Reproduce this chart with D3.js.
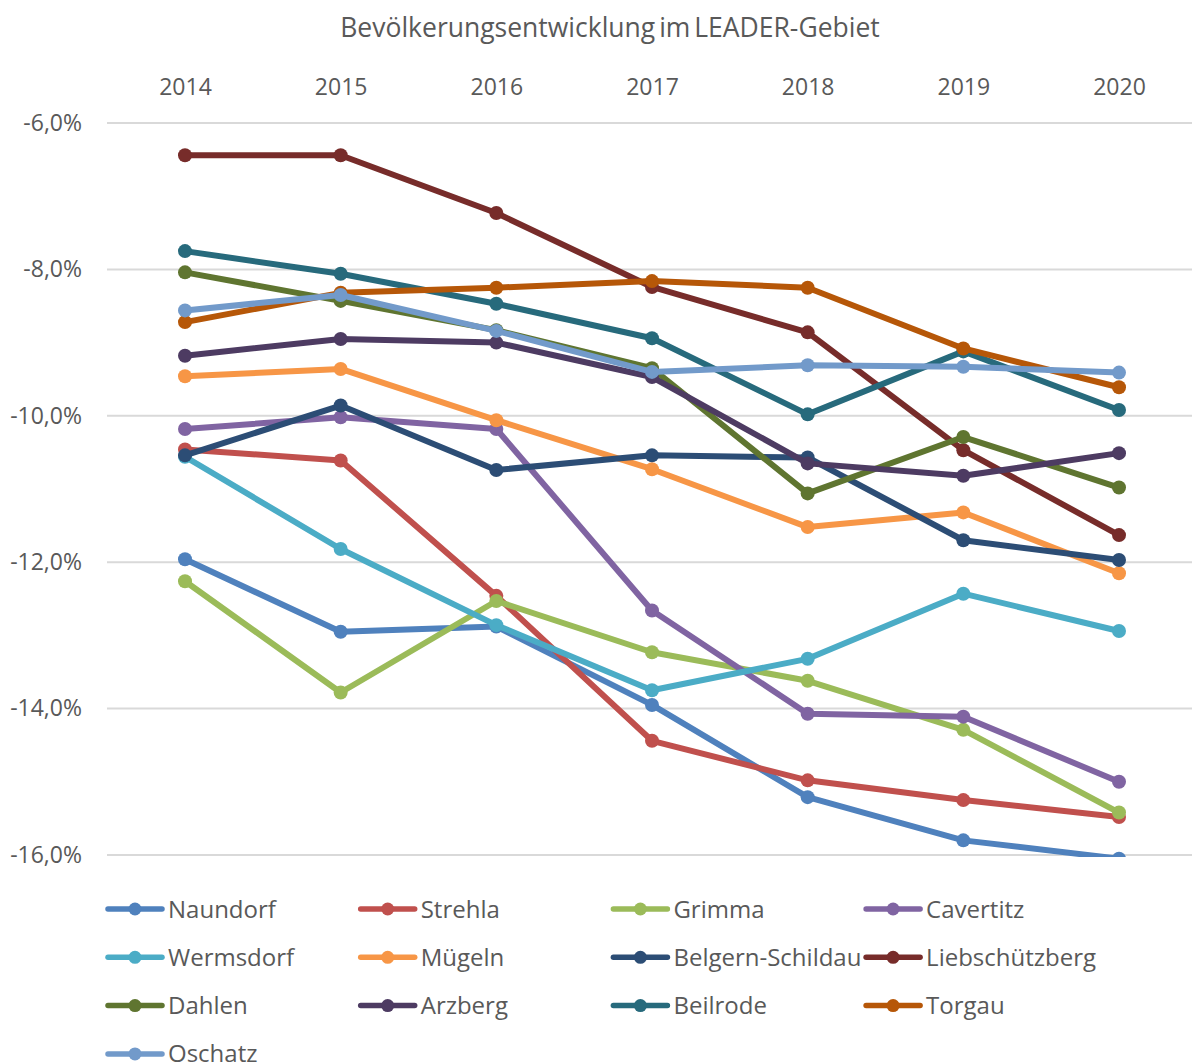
<!DOCTYPE html>
<html>
<head>
<meta charset="utf-8">
<script src="https://cdn.jsdelivr.net/npm/d3@7"></script>
<style>
	body { margin: 0; background: #ffffff; }
	text { font-family: "Open Sans", sans-serif; fill: #595959; }
</style>
</head>
<body>
<div id="chart"></div>
<script>
const years = [2014, 2015, 2016, 2017, 2018, 2019, 2020];
const y_ticks = [-6, -8, -10, -12, -14, -16];

// values in percent
const naundorf = [-11.96, -12.95, -12.88, -13.95, -15.21, -15.80, -16.05];
const strehla = [-10.46, -10.61, -12.46, -14.44, -14.98, -15.25, -15.48];
const grimma = [-12.26, -13.78, -12.53, -13.23, -13.62, -14.29, -15.42];
const cavertitz = [-10.18, -10.02, -10.18, -12.66, -14.07, -14.11, -15.00];
const wermsdorf = [-10.56, -11.82, -12.86, -13.75, -13.32, -12.43, -12.94];
const muegeln = [-9.46, -9.36, -10.06, -10.73, -11.52, -11.32, -12.15];
const belgern = [-10.54, -9.86, -10.74, -10.54, -10.57, -11.70, -11.97];
const liebschuetzberg = [-6.44, -6.44, -7.23, -8.24, -8.86, -10.47, -11.63];
const dahlen = [-8.04, -8.43, -8.83, -9.35, -11.06, -10.29, -10.98];
const arzberg = [-9.18, -8.95, -9.00, -9.47, -10.65, -10.82, -10.51];
const beilrode = [-7.75, -8.06, -8.47, -8.94, -9.98, -9.12, -9.92];
const torgau = [-8.72, -8.32, -8.25, -8.16, -8.25, -9.08, -9.61];
const oschatz = [-8.56, -8.35, -8.84, -9.40, -9.31, -9.33, -9.41];

const series_names = ["Naundorf", "Strehla", "Grimma", "Cavertitz", "Wermsdorf", "Mügeln",
	"Belgern-Schildau", "Liebschützberg", "Dahlen", "Arzberg", "Beilrode", "Torgau", "Oschatz"];
const series_values = [naundorf, strehla, grimma, cavertitz, wermsdorf, muegeln,
	belgern, liebschuetzberg, dahlen, arzberg, beilrode, torgau, oschatz];
const series_colors = ["#4f81bd", "#c0504d", "#9bbb59", "#8064a2", "#4bacc6", "#f79646",
	"#2c4d75", "#772c2a", "#5f7530", "#4d3b62", "#276a7c", "#b65708", "#729aca"];

const width = 1192;
const height = 1063;
const plot = {left: 107, right: 1192, top: 123, bottom: 855};

const svg = d3.select("#chart")
	.append("svg")
		.attr("width", width)
		.attr("height", height);

const x = d3.scalePoint()
	.domain(years)
	.range([185, 1119]);
const y = d3.scaleLinear()
	.domain([-6, -16])
	.range([plot.top, plot.bottom]);

const fmt = v => v.toFixed(1).replace(".", ",") + "%";

// title
svg.append("text")
	.attr("x", 610)
	.attr("y", 37)
	.attr("text-anchor", "middle")
	.style("font-size", "26.5px")
	.style("word-spacing", "-3px")
	.text("Bevölkerungsentwicklung im LEADER-Gebiet");

// gridlines
svg.append("g")
	.selectAll("line")
	.data(y_ticks)
	.join("line")
		.attr("x1", plot.left)
		.attr("x2", plot.right)
		.attr("y1", d => y(d))
		.attr("y2", d => y(d))
		.attr("stroke", "#d9d9d9")
		.attr("stroke-width", 2);

// y labels
const y_axis = svg.append("g")
	.attr("transform", "translate(82,0)")
	.call(d3.axisLeft(y).tickValues(y_ticks).tickFormat(fmt).tickSize(0).tickPadding(0));
y_axis.select(".domain").remove();
y_axis.selectAll("text")
	.style("font-size", "23px")
	.attr("fill", "#595959")
	.style("font-family", "\"Open Sans\", sans-serif");

// x labels on top
const x_axis = svg.append("g")
	.attr("transform", "translate(0,95)")
	.call(d3.axisTop(x).tickSize(0).tickPadding(0));
x_axis.select(".domain").remove();
x_axis.selectAll("text")
	.style("font-size", "23px")
	.attr("fill", "#595959")
	.style("font-family", "\"Open Sans\", sans-serif");

// clip to plot area
svg.append("clipPath")
	.attr("id", "plot_clip")
	.append("rect")
		.attr("x", 0)
		.attr("y", 0)
		.attr("width", width)
		.attr("height", plot.bottom + 2);

const line = d3.line()
	.x((d, i) => x(years[i]))
	.y(d => y(d));

const lines = svg.append("g")
	.attr("clip-path", "url(#plot_clip)");

series_values.forEach((vals, k) => {
	const g = lines.append("g");
	g.append("path")
		.attr("d", line(vals))
		.attr("fill", "none")
		.attr("stroke", series_colors[k])
		.attr("stroke-width", 6)
		.attr("stroke-linejoin", "round")
		.attr("stroke-linecap", "round");
	g.selectAll("circle")
		.data(vals)
		.join("circle")
			.attr("cx", (d, i) => x(years[i]))
			.attr("cy", d => y(d))
			.attr("r", 7)
			.attr("fill", series_colors[k]);
});

// legend
const legend = svg.append("g");
series_names.forEach((name, k) => {
	const col = k % 4;
	const row = Math.floor(k / 4);
	const lx = 108 + col * 252.7;
	const ly = 909 + row * 48.3;
	const item = legend.append("g").attr("transform", "translate(" + lx + "," + ly + ")");
	item.append("line")
		.attr("x1", 0)
		.attr("x2", 54)
		.attr("stroke", series_colors[k])
		.attr("stroke-width", 5.5)
		.attr("stroke-linecap", "round");
	item.append("circle")
		.attr("cx", 27)
		.attr("r", 6.5)
		.attr("fill", series_colors[k]);
	item.append("text")
		.attr("x", 60)
		.attr("y", 8.5)
		.style("font-size", "24px")
		.text(name);
});
</script>
</body>
</html>
